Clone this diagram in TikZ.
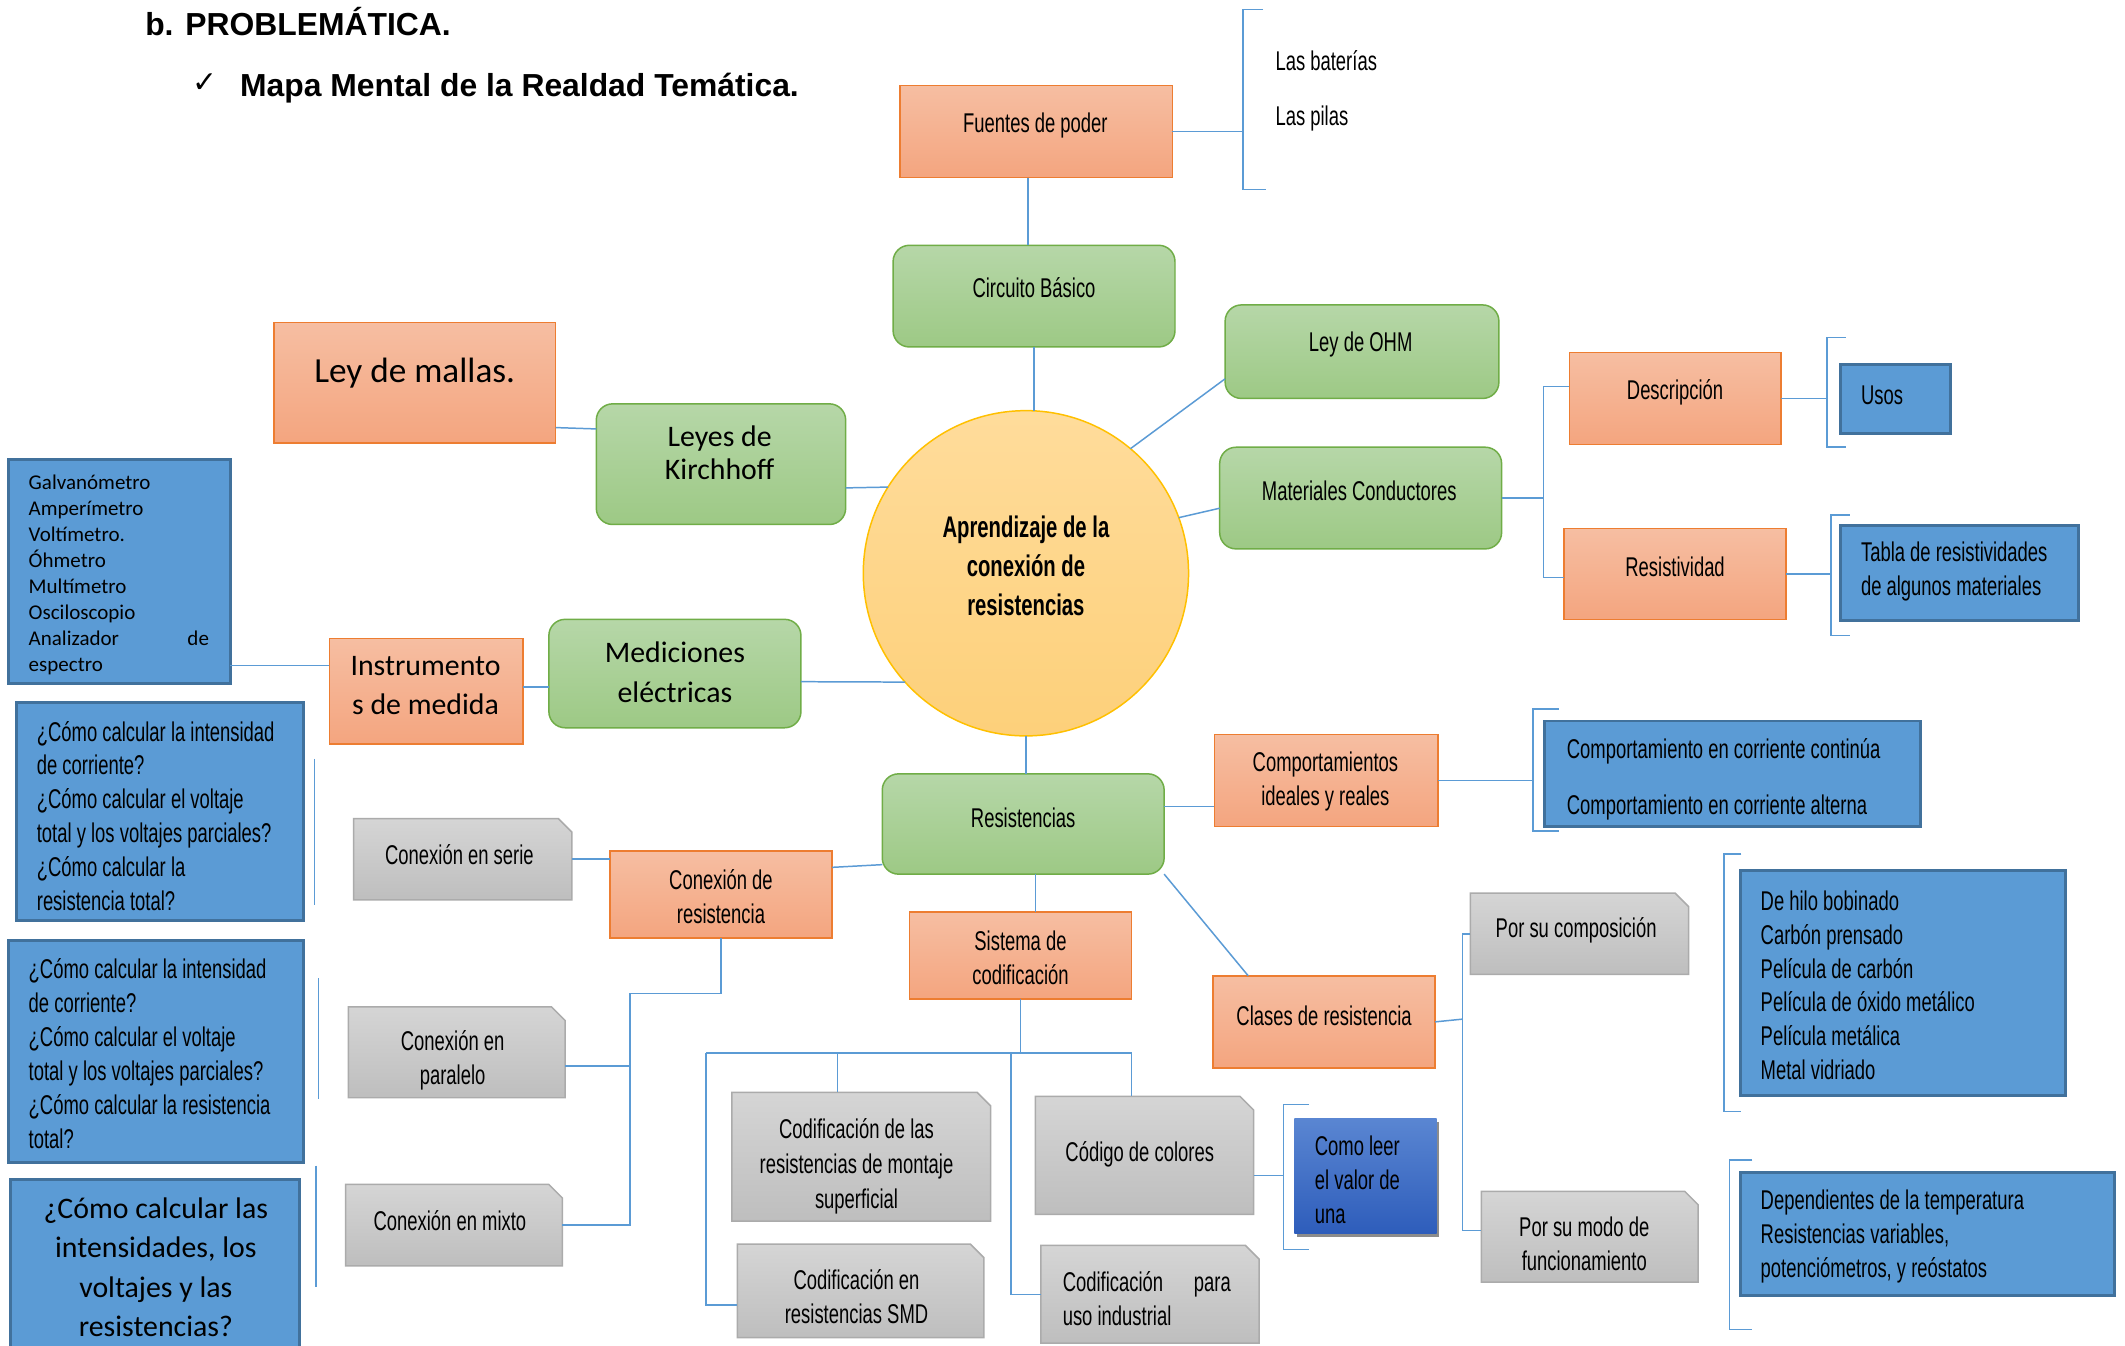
\documentclass[tikz,border=0pt]{standalone}
\usepackage{fontspec}
\setmainfont{Liberation Sans}
\newfontfamily\agency[FakeStretch=0.68]{Liberation Sans}
\newfontfamily\calib{Carlito}
\newfontfamily\symb{DejaVu Sans}
\usetikzlibrary{shadows}

\definecolor{lineblue}{HTML}{5B9BD5}
\definecolor{ortop}{HTML}{F6BEA2}
\definecolor{orbot}{HTML}{F4A57F}
\definecolor{orline}{HTML}{ED7D31}
\definecolor{grtop}{HTML}{B6D7A8}
\definecolor{grbot}{HTML}{9DC985}
\definecolor{grline}{HTML}{70AD47}
\definecolor{gytop}{HTML}{D5D5D5}
\definecolor{gybot}{HTML}{BEBEBE}
\definecolor{gyline}{HTML}{ABABAB}
\definecolor{blufill}{HTML}{5B9BD5}
\definecolor{bluline}{HTML}{41719C}
\definecolor{dktop}{HTML}{5A86D2}
\definecolor{dkbot}{HTML}{2E5DBB}
\definecolor{cirtop}{HTML}{FFDC9B}
\definecolor{cirbot}{HTML}{FDD07A}
\definecolor{cirline}{HTML}{FFC000}

% box from its corners: style, name, x1, y1, x2, y2
\newcommand\mkbox[6]{%
  \pgfmathsetmacro\bxw{#5-#3}\pgfmathsetmacro\bxh{#6-#4}%
  \pgfmathsetmacro\bxx{(#3+#5)/2}\pgfmathsetmacro\bxy{(#4+#6)/2}%
  \node[#1, minimum width=\bxw pt, minimum height=\bxh pt] (#2) at (\bxx,\bxy) {};}
% grey box with a snipped top-right corner
\newcommand\mkgrey[5]{%
  \mkbox{sbox}{#1}{#2}{#3}{#4}{#5}%
  \path[snip] (#1.north west) -- ([xshift=-10pt]#1.north east) -- ([yshift=-10pt]#1.north east)
    -- (#1.south east) -- (#1.south west) -- cycle;}

\tikzset{
  conn/.style={draw=lineblue, line width=1.1pt},
  obox/.style={rectangle, draw=orline, line width=1.1pt, top color=ortop, bottom color=orbot, inner sep=0pt, outer sep=0pt},
  gbox/.style={rectangle, rounded corners=12pt, draw=grline, line width=1.1pt, top color=grtop, bottom color=grbot, inner sep=0pt, outer sep=0pt},
  bbox/.style={rectangle, draw=bluline, line width=2.2pt, fill=blufill, inner sep=0pt, outer sep=0pt},
  dbox/.style={rectangle, top color=dktop, bottom color=dkbot, inner sep=0pt, outer sep=0pt,
    drop shadow={shadow xshift=2pt, shadow yshift=-3pt, opacity=.45, fill=black}},
  sbox/.style={rectangle, inner sep=0pt, outer sep=0pt},
  snip/.style={draw=gyline, line width=1.1pt, top color=gytop, bottom color=gybot},
  ag/.style={font=\agency\fontsize{20}{25}\selectfont, inner sep=0pt, align=center, yshift=-1.5pt},
  agl/.style={ag, align=left, anchor=west},
  cal/.style={font=\calib\fontsize{22}{29}\selectfont, inner sep=0pt, align=center},
}

\begin{document}
\begin{tikzpicture}[x=1pt,y=-1pt]
\useasboundingbox (0,0) rectangle (1568,993);
\clip (0,0) rectangle (1568,993);
\fill[white] (0,0) rectangle (1568,993);

% headings
\node[anchor=base west, inner sep=0pt, font=\bfseries\fontsize{23.5}{28}\selectfont] (title) at (107,26) {b. PROBLEMÁTICA.};
\node[inner sep=0pt, font=\symb\fontsize{22}{24}\selectfont] (tick) at (151,61) {✓};
\node[anchor=base west, inner sep=0pt, font=\bfseries\fontsize{23.5}{28}\selectfont] (subtitle) at (177,71) {Mapa Mental de la Realdad Temática.};

% power sources
\mkbox{obox}{fuentes}{664}{63}{865}{131}
\node[ag] (fuentes-t) at (764,91) {Fuentes de poder};
\node[agl] (bat) at (941,43) {Las baterías};
\node[agl] (pil) at (941,86) {Las pilas};

% upper right branch
\mkbox{gbox}{circuito}{659}{181}{867}{256}
\node[ag] (circuito-t) at (763,211) {Circuito Básico};
\mkbox{gbox}{ohm}{904}{225}{1106}{294}
\node[ag] (ohm-t) at (1004,253) {Ley de OHM};
\mkbox{gbox}{mat}{900}{330}{1108}{405}
\node[ag] (mat-t) at (1003,361) {Materiales Conductores};
\mkbox{obox}{desc}{1158}{260}{1314}{328}
\node[ag] (desc-t) at (1236,288) {Descripción};
\mkbox{obox}{resist}{1154}{390}{1318}{457}
\node[ag] (resist-t) at (1236,417) {Resistividad};
\mkbox{bbox}{usos}{1358}{269}{1439}{320}
\node[agl] (usos-t) at (1373,290) {Usos};
\mkbox{bbox}{tabla}{1358}{388}{1534}{458}
\node[agl] (tabla-t) at (1373,420.5) {Tabla de resistividades\\de algunos materiales};

% central topic
\node[circle, draw=cirline, line width=1.1pt, top color=cirtop, bottom color=cirbot,
  minimum size=240pt, inner sep=0pt, outer sep=0pt] (centro) at (757,423) {};
\node[ag, font=\agency\bfseries\fontsize{22}{29}\selectfont] (centro-t) at (757,416)
  {Aprendizaje de la\\conexión de\\resistencias};

% left branch
\mkbox{obox}{mallas}{202}{238}{410}{327}
\node[cal, font=\calib\fontsize{26}{30}\selectfont] (mallas-t) at (306,275) {Ley de mallas.};
\mkbox{gbox}{kirch}{440}{298}{624}{387}
\node[cal, font=\calib\fontsize{22}{24}\selectfont] (kirch-t) at (531,334) {Leyes de\\Kirchhoff};
\mkbox{gbox}{med}{405}{457}{591}{537}
\node[cal] (med-t) at (498,496) {Mediciones\\eléctricas};
\mkbox{obox}{instr}{243}{471}{386}{549}
\node[cal] (instr-t) at (314,506) {Instrumento\\s de medida};
\mkbox{bbox}{instlist}{6}{339}{170}{504}
\node[cal, font=\calib\fontsize{15.5}{19.2}\selectfont, text width=133pt, align=left, anchor=west]
  (instlist-t) at (21,424)
  {Galvanómetro\\Amperímetro\\Voltímetro.\\Óhmetro\\Multímetro\\Osciloscopio\\Analizador\hfill de\\espectro};

% questions
\mkbox{bbox}{q1}{12}{518}{224}{679}
\node[agl] (q1-t) at (27,600.5) {¿Cómo calcular la intensidad\\de corriente?\\¿Cómo calcular el voltaje\\total y los voltajes parciales?\\¿Cómo calcular la\\resistencia total?};
\mkbox{bbox}{q2}{6}{694}{224}{858}
\node[agl] (q2-t) at (21,776) {¿Cómo calcular la intensidad\\de corriente?\\¿Cómo calcular el voltaje\\total y los voltajes parciales?\\¿Cómo calcular la resistencia\\total?};
\mkbox{bbox}{q3}{8}{870}{221}{1002}
\node[cal] (q3-t) at (115,935) {¿Cómo calcular las\\intensidades, los\\voltajes y las\\resistencias?};

% connection types
\mkgrey{serie}{261}{604}{422}{664}
\node[ag] (serie-t) at (339,629) {Conexión en serie};
\mkgrey{paralelo}{257}{743}{417}{810}
\node[ag] (paralelo-t) at (334,781) {Conexión en\\paralelo};
\mkgrey{mixto}{255}{874}{415}{934}
\node[ag] (mixto-t) at (332,899) {Conexión en mixto};
\mkbox{obox}{conres}{450}{628}{614}{692}
\node[ag] (conres-t) at (532,660) {Conexión de\\resistencia};

% resistors
\mkbox{gbox}{res}{651}{571}{859}{645}
\node[ag] (res-t) at (755,602) {Resistencias};
\mkbox{obox}{comp}{896}{542}{1061}{610}
\node[ag] (comp-t) at (978,575) {Comportamientos\\ideales y reales};
\mkbox{bbox}{compbox}{1140}{532}{1417}{610}
\node[agl] (cc-t) at (1156,553) {Comportamiento en corriente continúa};
\node[agl] (ca-t) at (1156,594) {Comportamiento en corriente alterna};

% coding system
\mkbox{obox}{sis}{671}{673}{835}{737}
\node[ag] (sis-t) at (753,705) {Sistema de\\codificación};
\mkgrey{codlas}{540}{806}{731}{901}
\node[ag, font=\agency\fontsize{20}{26}\selectfont] (codlas-t) at (632,859) {Codificación de las\\resistencias de montaje\\superficial};
\mkgrey{colores}{764}{809}{925}{896}
\node[ag] (colores-t) at (841,850) {Código de colores};
\mkgrey{smd}{544}{918}{726}{987}
\node[ag] (smd-t) at (632,955) {Codificación en\\resistencias SMD};
\mkgrey{indus}{768}{919}{929}{991}
\node[agl] (indus-t) at (784,957) {\makebox[124pt][l]{Codificación\hfill para}\\uso industrial};
\mkbox{dbox}{leer}{955}{825}{1060}{910}
\node[agl] (leer-t) at (970,869) {Como leer\\el valor de\\una};

% resistor classes
\mkbox{obox}{clases}{895}{720}{1059}{788}
\node[ag] (clases-t) at (977,748) {Clases de resistencia};
\mkgrey{compo}{1085}{659}{1246}{719}
\node[ag] (compo-t) at (1163,685) {Por su composición};
\mkgrey{modo}{1093}{879}{1253}{946}
\node[ag] (modo-t) at (1169,916) {Por su modo de\\funcionamiento};
\mkbox{bbox}{hilo}{1284}{642}{1524}{808}
\node[agl] (hilo-t) at (1299,725.5) {De hilo bobinado\\Carbón prensado\\Película de carbón\\Película de óxido metálico\\Película metálica\\Metal vidriado};
\mkbox{bbox}{dep}{1284}{865}{1560}{956}
\node[agl] (dep-t) at (1299,911) {Dependientes de la temperatura\\Resistencias variables,\\potenciómetros, y reóstatos};

% ---------- connectors ----------
% power sources
\coordinate (fb1) at (917,7); \coordinate (fb2) at (917,140);
\draw[conn] (fuentes.east) -- (fuentes.east -| fb1);
\draw[conn] (932,7) -- (fb1) -- (fb2) -- (934,140);
\coordinate (fs) at ([xshift=-6pt]fuentes.south);
\draw[conn] (fs) -- (fs |- circuito.north);
\draw[conn] (circuito.south) -- (circuito.south |- centro.north);

% upper right
\coordinate (ohmw) at ([yshift=-20pt]ohm.west);
\draw[conn] (centro.50) -- (ohmw);
\coordinate (matw) at ([yshift=-7.5pt]mat.west);
\draw[conn] (centro.20) -- (matw);
\coordinate (mb1) at (1139,285); \coordinate (mb2) at (1139,426);
\draw[conn] (mat.east) -- (mat.east -| mb1);
\draw[conn] (mb1 -| desc.west) -- (mb1) -- (mb2) -- (mb2 -| resist.west);
\draw[conn] (desc.east) -- (1348,294);
\draw[conn] (1362,249) -- (1348,249) -- (1348,330) -- (1362,330);
\draw[conn] (resist.east) -- (1351,423.5);
\draw[conn] (1365,380) -- (1351,380) -- (1351,469) -- (1365,469);

% left
\coordinate (kq) at ([yshift=-17.5pt]kirch.east);
\draw[conn] (kq) -- (centro.148);
\coordinate (me) at ([yshift=-33pt]mallas.east);
\coordinate (kw) at ([yshift=26pt]kirch.west);
\draw[conn] (me) -- (kw);
\coordinate (mde) at ([yshift=-6pt]med.east);
\draw[conn] (mde) -- (centro.222);
\coordinate (mdw) at ([yshift=-10pt]med.west);
\draw[conn] (mdw) -- (mdw -| instr.east);
\coordinate (iw) at ([yshift=19pt]instr.west);
\draw[conn] (iw) -- (iw -| instlist.east);
\draw[conn] (232,560) -- (232,668);
\draw[conn] (235,722) -- (235,811);
\draw[conn] (233,860) -- (233,950);

% resistors
\draw[conn] (centro.south) -- (centro.south |- res.north);
\coordinate (cr1) at ([yshift=20pt]conres.east);
\coordinate (cr2) at ([yshift=-30pt]res.west);
\draw[conn] (cr1) -- (cr2);
\draw[conn] (serie.east) -- (serie.east -| conres.west);
\coordinate (ct) at (465,733);
\coordinate (pe) at ([yshift=-10pt]paralelo.east);
\draw[conn] (conres.south) |- (ct) -- (ct |- mixto.east) -- (mixto.east);
\draw[conn] (ct |- pe) -- (pe);
\coordinate (rc) at ([yshift=13pt]res.east);
\draw[conn] (rc) -- (rc -| comp.west);
\draw[conn] (comp.east) -- (1131,576);
\draw[conn] (1150,523) -- (1131,523) -- (1131,613) -- (1150,613);

% coding system
\coordinate (rs) at ([xshift=9pt]res.south);
\draw[conn] (rs) -- (rs |- sis.north);
\coordinate (sj) at (752,777);
\draw[conn] (sis.south) -- (sis.south |- sj);
\draw[conn] (521,777) -- (835,777);
\coordinate (sx1) at (618,777);
\draw[conn] (sx1) -- (sx1 |- codlas.north);
\coordinate (sx2) at (835,777);
\draw[conn] (sx2) -- (sx2 |- colores.north);
\coordinate (sx3) at (521,777);
\coordinate (smdw) at ([yshift=-10.5pt]smd.west);
\draw[conn] (sx3) |- (smdw);
\coordinate (sx4) at (746,777);
\draw[conn] (sx4) |- (indus.west);
\coordinate (cce) at ([yshift=-15pt]colores.east);
\draw[conn] (cce) -- (947,867.5);
\draw[conn] (966,815) -- (947,815) -- (947,922) -- (966,922);

% classes
\coordinate (cl) at ([xshift=26pt]clases.north west);
\draw[conn] (res.south east) -- (cl);
\draw[conn] (clases.east) -- (1079,752);
\coordinate (cb1) at (1079,689); \coordinate (cb2) at (1079,908);
\draw[conn] (compo.west) -- (cb1) -- (cb2) -- (cb2 -| modo.west);
\draw[conn] (1285,630) -- (1272,630) -- (1272,820) -- (1285,820);
\draw[conn] (1293,856) -- (1276,856) -- (1276,981) -- (1293,981);
\end{tikzpicture}
\end{document}
